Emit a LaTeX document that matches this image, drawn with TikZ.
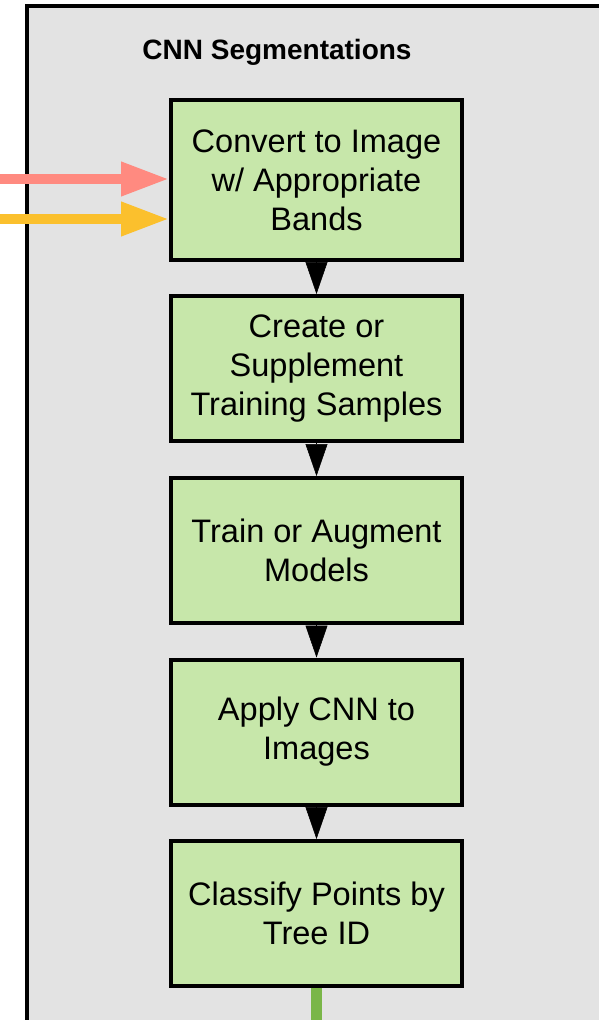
\documentclass[tikz,border=0pt]{standalone}
\usepackage{fontspec}
\setmainfont{Liberation Sans}
\usetikzlibrary{arrows.meta}
\definecolor{panelgray}{HTML}{E3E3E3}
\definecolor{boxgreen}{HTML}{C7E7AA}
\definecolor{linegreen}{HTML}{7AB648}
\definecolor{arrowpink}{HTML}{FF8A80}
\definecolor{arrowyellow}{HTML}{FBC02D}
\tikzset{
	stepbox/.style={draw=black,line width=3pt,fill=boxgreen,align=center,
		minimum width=218.25pt,minimum height=108.75pt,inner sep=0pt,
		font=\fontsize{24.4}{29.3}\selectfont},
	inarrow/.style={line width=7.5pt,-{Triangle[length=36pt,width=24pt]}},
	downtip/.style={line width=0.4pt,-{Triangle[length=24pt,width=16.5pt]}}
}
\begin{document}
\begin{tikzpicture}[x=0.75pt,y=-0.75pt]
	\useasboundingbox (0,0) rectangle (599,1020);
	\clip (0,0) rectangle (599,1020);
	% panel
	\draw[line width=3pt,fill=panelgray] (27,6.5) rectangle (700,1100);
	\node[font=\fontsize{21}{25}\selectfont\bfseries] (title) at (277,52) {CNN Segmentations};
	% steps
	\node[stepbox,minimum height=120pt] (convert) at (316.5,180) {Convert to Image\\w/ Appropriate\\Bands};
	\node[stepbox] (samples) at (316.5,368.5) {Create or\\Supplement\\Training Samples};
	\node[stepbox] (train) at (316.5,550.5) {Train or Augment\\Models};
	\node[stepbox] (apply) at (316.5,732) {Apply CNN to\\Images};
	\node[stepbox] (classify) at (316.5,913.5) {Classify Points by\\Tree ID};
	% incoming arrows
	\coordinate (pinkin) at (0,179);
	\coordinate (yellowin) at (0,219);
	\draw[inarrow,color=arrowpink] (pinkin) -- (pinkin -| convert.west);
	\draw[inarrow,color=arrowyellow] (yellowin) -- (yellowin -| convert.west);
	% step to step
	\draw[downtip] (convert) -- (samples);
	\draw[downtip] (samples) -- (train);
	\draw[downtip] (train) -- (apply);
	\draw[downtip] (apply) -- (classify);
	% outgoing
	\coordinate (out) at (316.5,1040);
	\draw[line width=8.25pt,color=linegreen] (classify) -- (out);
\end{tikzpicture}
\end{document}
